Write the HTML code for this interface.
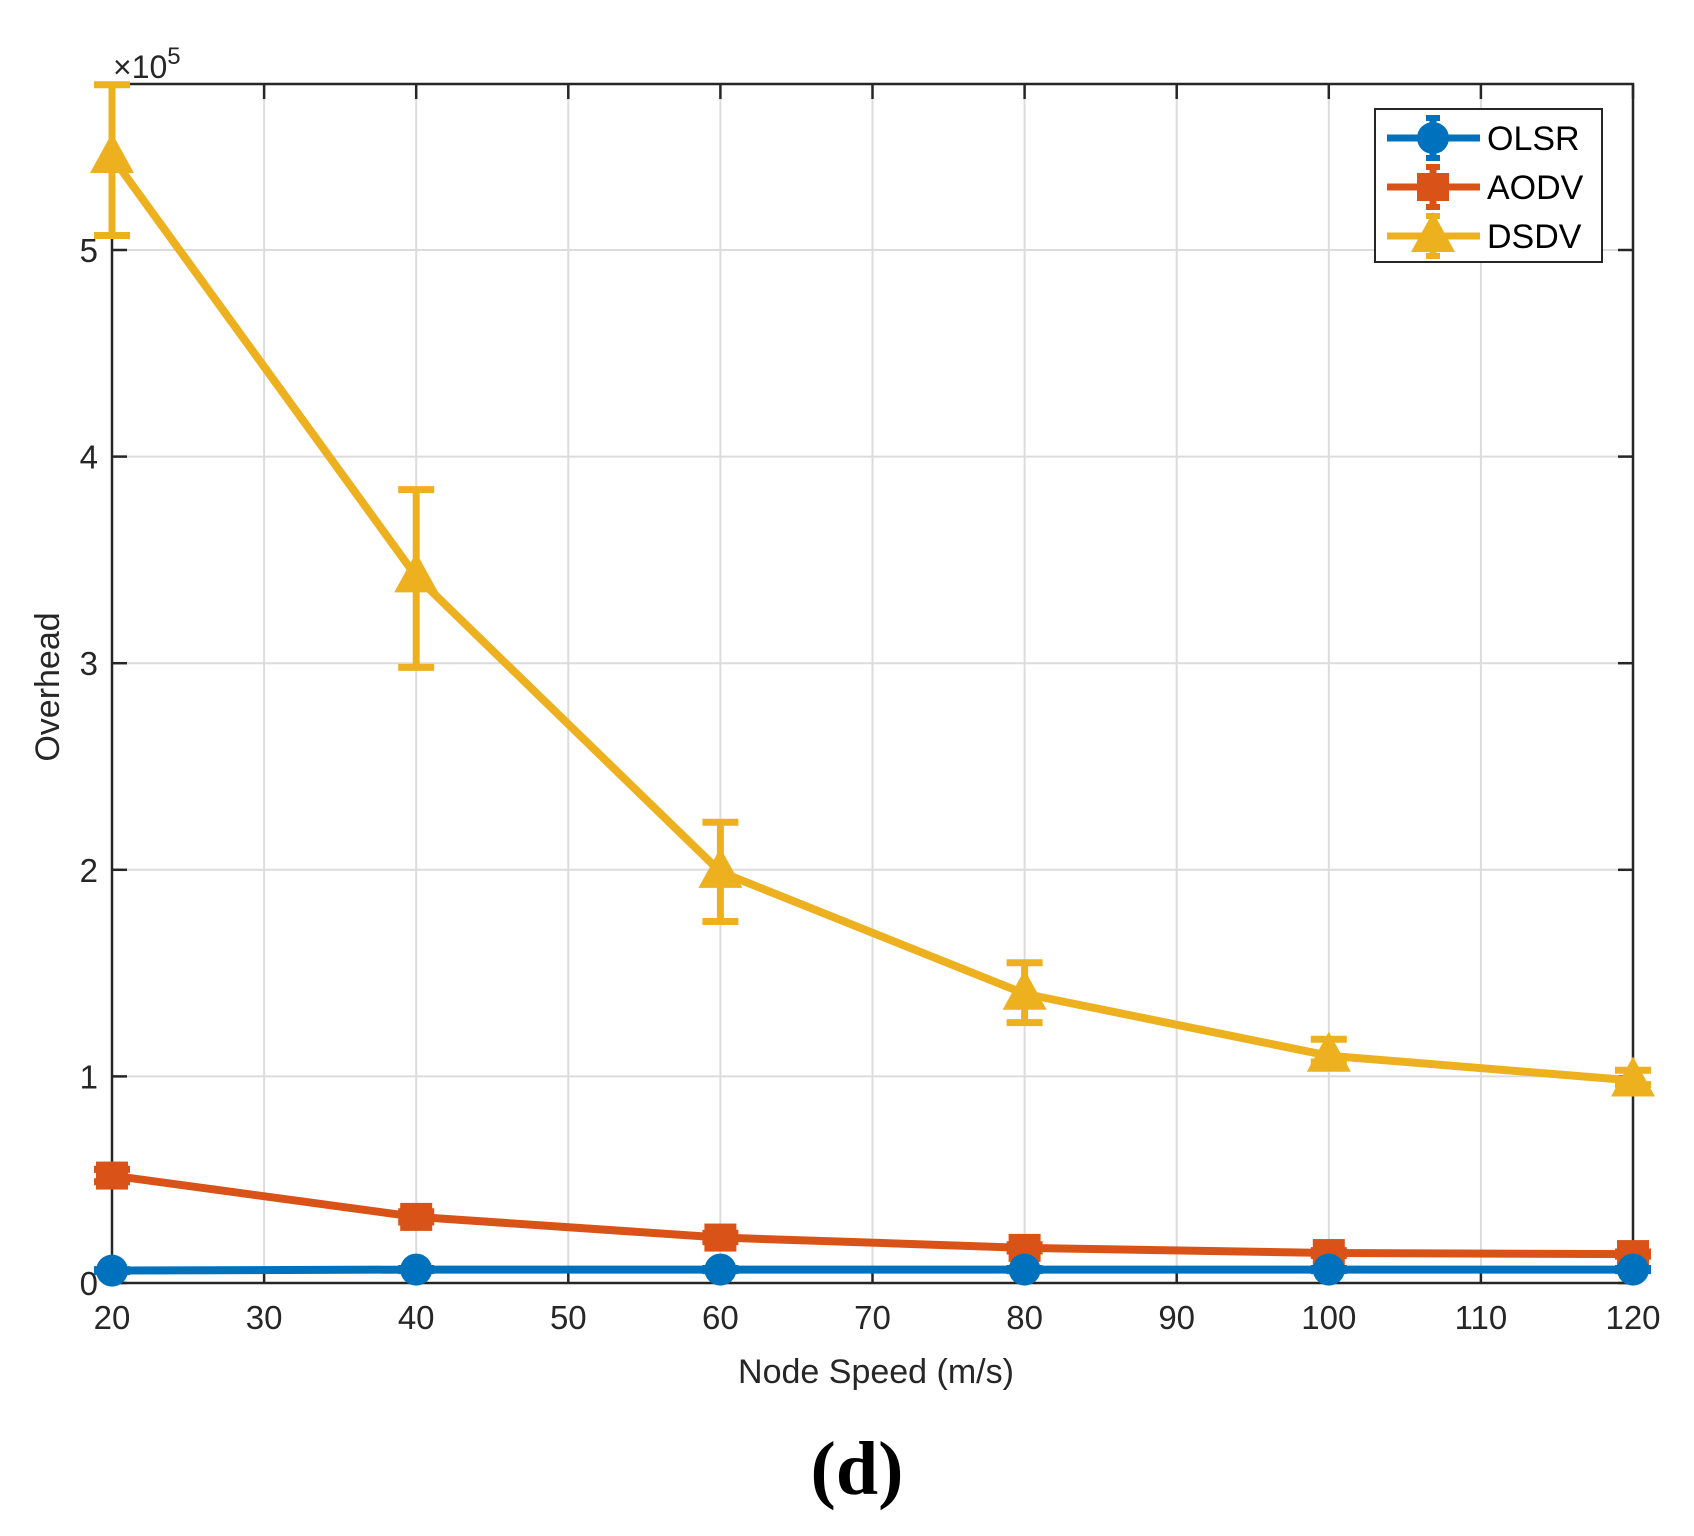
<!DOCTYPE html>
<html><head><meta charset="utf-8"><style>
body{margin:0;background:#fff}
svg{display:block;font-family:"Liberation Sans",Arial,sans-serif}
</style></head><body>
<svg id="chart" width="1694" height="1536" viewBox="0 0 1694 1536" xmlns="http://www.w3.org/2000/svg">
<rect width="1694" height="1536" fill="#fff"/>
<g id="grid"></g>
<g id="axes"></g>
<g id="series"></g>
<g id="legend"></g>
<text x="876" y="1383" font-size="34" text-anchor="middle" fill="#262626">Node Speed (m/s)</text>
<text transform="translate(59,687) rotate(-90)" font-size="34" text-anchor="middle" fill="#262626">Overhead</text>
<text x="113" y="78" font-size="32" fill="#262626">×10<tspan dy="-14" font-size="24">5</tspan></text>
<text x="857" y="1494" font-size="76" font-weight="bold" text-anchor="middle" font-family="Liberation Serif,serif" fill="#000">(d)</text>
</svg>
<script>
const speeds=[20,40,60,80,100,120];
const olsr=[0.06,0.065,0.065,0.065,0.065,0.065];
const olsrErr=[0.005,0.005,0.005,0.005,0.005,0.005];
const aodv=[0.52,0.32,0.22,0.17,0.145,0.14];
const aodvErr=[0.03,0.025,0.02,0.015,0.012,0.01];
const dsdv=[5.45,3.42,1.99,1.40,1.10,0.98];
const dsdvHi=[5.80,3.84,2.23,1.55,1.18,1.03];
const dsdvLo=[5.07,2.98,1.75,1.26,1.07,0.96];
const xTicks=[20,30,40,50,60,70,80,90,100,110,120];
const yTicks=[0,1,2,3,4,5];
const X0=112,X1=1633,Y0=1283,Y1=84,YMAX=(1283-84)/206.6;
const sx=v=>X0+(v-20)/100*(X1-X0);
const sy=v=>Y0-v/YMAX*(Y0-Y1);
const NS='http://www.w3.org/2000/svg';
function mk(tag,attrs,parent){const e=document.createElementNS(NS,tag);for(const k in attrs)e.setAttribute(k,attrs[k]);parent.appendChild(e);return e;}
const grid=document.getElementById('grid'),axes=document.getElementById('axes'),ser=document.getElementById('series'),leg=document.getElementById('legend');
xTicks.forEach(t=>{const x=sx(t);
 const g=mk('line',{x1:x,x2:x,y1:Y1,y2:Y0,stroke:'#dcdcdc','stroke-width':2},grid);
 
 
 mk('line',{x1:x,x2:x,y1:Y0,y2:Y0-15,stroke:'#262626','stroke-width':2.5},axes);
 mk('line',{x1:x,x2:x,y1:Y1,y2:Y1+15,stroke:'#262626','stroke-width':2.5},axes);
 const l=mk('text',{x:x,y:Y0+46,'font-size':33,'text-anchor':'middle',fill:'#262626'},axes);l.textContent=t;
 
 
});
yTicks.forEach(t=>{const y=sy(t);
 const g=mk('line',{x1:X0,x2:X1,y1:y,y2:y,stroke:'#dcdcdc','stroke-width':2},grid);
 
 
 mk('line',{x1:X0,x2:X0+15,y1:y,y2:y,stroke:'#262626','stroke-width':2.5},axes);
 mk('line',{x1:X1,x2:X1-15,y1:y,y2:y,stroke:'#262626','stroke-width':2.5},axes);
 const l=mk('text',{x:X0-14,y:y+12,'font-size':33,'text-anchor':'end',fill:'#262626'},axes);l.textContent=t;
 
 
});
const box=mk('rect',{x:X0,y:Y1,width:X1-X0,height:Y0-Y1,fill:'none',stroke:'#262626','stroke-width':2.5},axes);


function marker(type,x,y,c,p){
 if(type==='circle')return mk('circle',{cx:x,cy:y,r:16,fill:c},p);
 if(type==='square')return mk('rect',{x:x-16,y:y-14,width:32,height:28,fill:c},p);
 return mk('polygon',{points:`${x},${y-24} ${x-22},${y+16} ${x+22},${y+16}`,fill:c},p);
}
function drawSeries(name,vals,lo,hi,c,type){
 const g=mk('g',{},ser);
 
 
 speeds.forEach((s,i)=>{const x=sx(s);
  mk('line',{x1:x,x2:x,y1:sy(lo[i]),y2:sy(hi[i]),stroke:c,'stroke-width':7},g);
  mk('line',{x1:x-18,x2:x+18,y1:sy(lo[i]),y2:sy(lo[i]),stroke:c,'stroke-width':7},g);
  mk('line',{x1:x-18,x2:x+18,y1:sy(hi[i]),y2:sy(hi[i]),stroke:c,'stroke-width':7},g);
 });
 const line=mk('polyline',{points:speeds.map((s,i)=>sx(s)+','+sy(vals[i])).join(' '),fill:'none',stroke:c,'stroke-width':8,'stroke-linejoin':'round'},g);
 
 
 speeds.forEach((s,i)=>{const m=marker(type,sx(s),sy(vals[i]),c,g);
  
  
 });
}
drawSeries('dsdv',dsdv,dsdvLo,dsdvHi,'#EDB120','triangle');
drawSeries('aodv',aodv,aodv.map((v,i)=>v-aodvErr[i]),aodv.map((v,i)=>v+aodvErr[i]),'#D95319','square');
drawSeries('olsr',olsr,olsr.map((v,i)=>v-olsrErr[i]),olsr.map((v,i)=>v+olsrErr[i]),'#0072BD','circle');
const lb=mk('rect',{x:1375,y:109,width:227,height:153,fill:'#fff',stroke:'#262626','stroke-width':2},leg);


[['OLSR','#0072BD','circle'],['AODV','#D95319','square'],['DSDV','#EDB120','triangle']].forEach((d,i)=>{
 const y=138+i*49;
 const g=mk('g',{},leg);
 
 
 mk('line',{x1:1387,x2:1480,y1:y,y2:y,stroke:d[1],'stroke-width':7},g);
 mk('line',{x1:1433,x2:1433,y1:y-20,y2:y+20,stroke:d[1],'stroke-width':7},g);
 mk('line',{x1:1426,x2:1440,y1:y-20,y2:y-20,stroke:d[1],'stroke-width':6},g);
 mk('line',{x1:1426,x2:1440,y1:y+20,y2:y+20,stroke:d[1],'stroke-width':6},g);
 marker(d[2],1433,y,d[1],g);
 const t=mk('text',{x:1487,y:y+12,'font-size':34,fill:'#000'},g);t.textContent=d[0];
});
</script>
</body></html>
